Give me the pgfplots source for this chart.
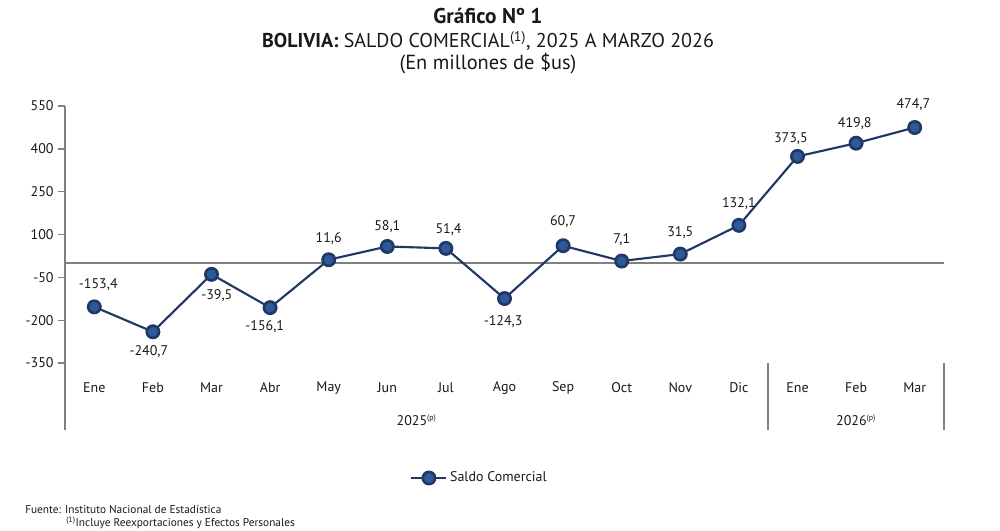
\documentclass[border=0pt]{standalone}
\usepackage{pgfplots}
\pgfplotsset{compat=1.18}
\usepackage{fontspec}
\setmainfont{PT Sans}
\definecolor{navy}{RGB}{31,56,100}
\definecolor{mfill}{RGB}{47,88,155}
\definecolor{axgray}{RGB}{128,128,128}
\definecolor{txt}{RGB}{25,25,25}
\newcommand{\lf}{\fontsize{10.5}{12}\selectfont}
\begin{document}
\begin{tikzpicture}
\begin{scope}[x=0.75pt,y=-0.75pt]
\useasboundingbox (0,0) rectangle (1000,531);
\node[font=\fontsize{16}{18}\selectfont\bfseries,text=txt] at (488,16) {Gráfico Nº 1};
\node[font=\fontsize{15}{18}\selectfont,text=txt] at (488,41) {\textbf{BOLIVIA:} SALDO COMERCIAL\textsuperscript{(1)}, 2025 A MARZO 2026};
\node[font=\fontsize{15.3}{18}\selectfont,text=txt] at (488,64) {(En millones de \$us)};
\node[anchor=west,font=\fontsize{8.5}{10}\selectfont,text=txt,inner sep=0] at (25,509) {Fuente: Instituto Nacional de Estadística};
\node[anchor=west,font=\fontsize{8.5}{10}\selectfont,text=txt,inner sep=0] at (66,523) {\textsuperscript{(1)}Incluye Reexportaciones y Efectos Personales};
\end{scope}
\begin{axis}[
  at={(48.75pt,-272.25pt)}, anchor=south west,
  scale only axis, width=659.25pt, height=192.75pt,
  xmin=-0.5, xmax=14.5, ymin=-350, ymax=550,
  ytick={-350,-200,-50,100,250,400,550},
  xtick={0,...,14},
  xticklabels={Ene,Feb,Mar,Abr,May,Jun,Jul,Ago,Sep,Oct,Nov,Dic,Ene,Feb,Mar},
  axis x line*=bottom, axis y line*=left,
  x axis line style={draw=none},
  xtick style={draw=none},
  xticklabel style={anchor=center,yshift=-13.5pt},
  y axis line style={draw=axgray,line width=1.4pt,-},
  ytick style={draw=axgray,line width=1pt},
  major tick length=5pt,
  tick align=outside,
  tick label style={font=\lf,text=txt},
  /pgf/number format/assume math mode=true,
  clip=false,
  legend style={at={(0.472,-0.4475)},anchor=center,draw=none,fill=none,font=\lf,text=txt},
  legend image code/.code={\draw[mark repeat=2,mark phase=2,#1] plot coordinates {(0cm,0cm)(0.46cm,0cm)(0.92cm,0cm)};},
]
% zero line
\draw[axgray,line width=1.1pt] (axis cs:-0.5,0) -- (axis cs:14.5,0);
% extended y axis and separators
\draw[axgray,line width=1.4pt] (axis cs:-0.5,-350) -- (axis cs:-0.5,-584);
\draw[axgray,line width=1.4pt] (axis cs:11.5,-350) -- (axis cs:11.5,-584);
\draw[axgray,line width=1.4pt] (axis cs:14.5,-350) -- (axis cs:14.5,-584);
\node[font=\lf,text=txt,yshift=-42.75pt] at (axis cs:5.5,-350) {2025\textsuperscript{\fontsize{6}{7}\selectfont(p)}};
\node[font=\lf,text=txt,yshift=-42.75pt] at (axis cs:13,-350) {2026\textsuperscript{\fontsize{6}{7}\selectfont(p)}};
\addplot[navy,line width=1.6pt,mark=*,mark size=4.6pt,
  mark options={fill=mfill,draw=navy,line width=2pt}]
  coordinates {(0,-153.4)(1,-240.7)(2,-39.5)(3,-156.1)(4,11.6)(5,58.1)(6,51.4)(7,-124.3)(8,60.7)(9,7.1)(10,31.5)(11,132.1)(12,373.5)(13,419.8)(14,474.7)};
\addlegendentry{Saldo Comercial}
% data labels
\node[font=\lf,text=txt,xshift=3pt,yshift=17pt] at (axis cs:0,-153.4) {-153,4};
\node[font=\lf,text=txt,xshift=-3pt,yshift=-15pt] at (axis cs:1,-240.7) {-240,7};
\node[font=\lf,text=txt,xshift=4pt,yshift=-16pt] at (axis cs:2,-39.5) {-39,5};
\node[font=\lf,text=txt,xshift=-4pt,yshift=-14pt] at (axis cs:3,-156.1) {-156,1};
\node[font=\lf,text=txt,yshift=16pt] at (axis cs:4,11.6) {11,6};
\node[font=\lf,text=txt,yshift=15pt] at (axis cs:5,58.1) {58,1};
\node[font=\lf,text=txt,xshift=2pt,yshift=14pt] at (axis cs:6,51.4) {51,4};
\node[font=\lf,text=txt,xshift=-1pt,yshift=-17pt] at (axis cs:7,-124.3) {-124,3};
\node[font=\lf,text=txt,yshift=18pt] at (axis cs:8,60.7) {60,7};
\node[font=\lf,text=txt,yshift=16pt] at (axis cs:9,7.1) {7,1};
\node[font=\lf,text=txt,yshift=16pt] at (axis cs:10,31.5) {31,5};
\node[font=\lf,text=txt,yshift=16pt] at (axis cs:11,132.1) {132,1};
\node[font=\lf,text=txt,xshift=-5pt,yshift=13pt] at (axis cs:12,373.5) {373,5};
\node[font=\lf,text=txt,xshift=-1pt,yshift=15pt] at (axis cs:13,419.8) {419,8};
\node[font=\lf,text=txt,xshift=-1pt,yshift=17pt] at (axis cs:14,474.7) {474,7};
\end{axis}
\end{tikzpicture}
\end{document}
